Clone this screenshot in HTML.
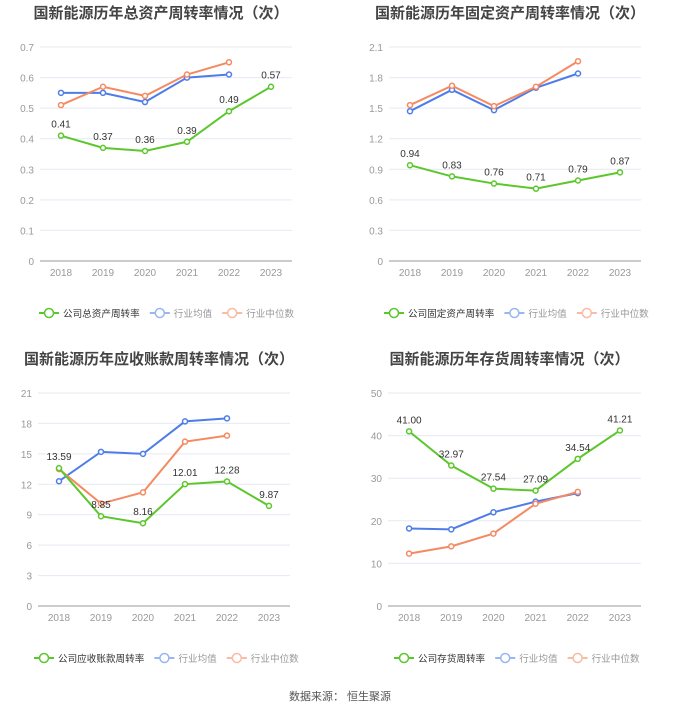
<!DOCTYPE html>
<html><head><meta charset="utf-8"><style>
body{margin:0;background:#fff;font-family:"Liberation Sans","Noto Sans CJK SC",sans-serif}
svg text{font-family:"Liberation Sans","Noto Sans CJK SC",sans-serif}
</style></head><body>
<svg id="root" width="680" height="712" xmlns="http://www.w3.org/2000/svg"></svg>
<script>
const years = ["2018","2019","2020","2021","2022","2023"];
const c1Company = [0.41,0.37,0.36,0.39,0.49,0.57];
const c1Avg = [0.55,0.55,0.52,0.60,0.61];
const c1Median = [0.51,0.57,0.54,0.61,0.65];
const c1Ticks = ["0","0.1","0.2","0.3","0.4","0.5","0.6","0.7"];
const c2Company = [0.94,0.83,0.76,0.71,0.79,0.87];
const c2Avg = [1.47,1.68,1.48,1.70,1.84];
const c2Median = [1.53,1.72,1.52,1.71,1.96];
const c2Ticks = ["0","0.3","0.6","0.9","1.2","1.5","1.8","2.1"];
const c3Company = [13.59,8.85,8.16,12.01,12.28,9.87];
const c3Avg = [12.3,15.2,15.0,18.2,18.5];
const c3Median = [13.5,10.1,11.2,16.2,16.8];
const c3Ticks = ["0","3","6","9","12","15","18","21"];
const c4Company = [41.00,32.97,27.54,27.09,34.54,41.21];
const c4Avg = [18.2,18.0,22.0,24.5,26.5];
const c4Median = [12.3,14.0,17.0,24.0,26.8];
const c4Ticks = ["0","10","20","30","40","50"];

const NS="http://www.w3.org/2000/svg";
const root=document.getElementById('root');
function mk(tag,attrs,parent){const e=document.createElementNS(NS,tag);for(const k in attrs)e.setAttribute(k,attrs[k]);(parent||root).appendChild(e);return e;}

function chart(cfg){
  const g=mk('g',{});
  
  
  const {x0,x1,y0,y1,ticks,company,avg,median,dec}=cfg;
  const max=parseFloat(ticks[ticks.length-1]);
  const ys=v=>y0-(v/max)*(y0-y1);
  const step=(x1-x0)/6;
  const xs=i=>x0+step*(i+0.5);
  const t=mk('text',{x:(x0+x1)/2-5,y:y1-29,'text-anchor':'middle','font-size':'15','font-weight':'bold',fill:'#444'},g);
  t.textContent=cfg.title;
  
  
  ticks.forEach((tk,i)=>{
    const v=parseFloat(tk);const y=ys(v);
    if(i>0){const l=mk('line',{x1:x0,x2:x1,y1:y,y2:y,stroke:'#e6e9f2','stroke-width':1},g);
      }
    const tx=mk('text',{x:x0-6,y:y+4,'text-anchor':'end','font-size':'10',fill:'#999'},g);
    tx.textContent=tk;
    
  });
  const ax=mk('line',{x1:x0,x2:x1,y1:y0,y2:y0,stroke:'#bbb','stroke-width':1.5},g);
  
  years.forEach((yr,i)=>{
    const tx=mk('text',{x:xs(i),y:y0+15,'text-anchor':'middle','font-size':'10',fill:'#999'},g);
    tx.textContent=yr;
    
  });
  function series(data,color,name,labels){
    const pts=data.map((v,i)=>xs(i)+','+ys(v)).join(' ');
    const pl=mk('polyline',{points:pts,fill:'none',stroke:color,'stroke-width':2},g);
    
    data.forEach((v,i)=>{
      const c=mk('circle',{cx:xs(i),cy:ys(v),r:2.5,fill:'#fff',stroke:color,'stroke-width':1.5},g);
      
      if(labels){
        const tx=mk('text',{x:xs(i),y:ys(v)-8,'text-anchor':'middle','font-size':'10',fill:'#333'},g);
        tx.textContent=v.toFixed(dec);
        
      }
    });
  }
  series(avg,'#4e7de8','industry-average',false);
  series(median,'#f58a62','industry-median',false);
  series(company,'#5cc72d','company',true);
  const ly=cfg.ly; let lx=cfg.lx;
  const items=[[cfg.legend,'#5cc72d','#333'],['行业均值','#9ab6f2','#999'],['行业中位数','#f9bba3','#999']];
  items.forEach((it,k)=>{
    const lg=mk('g',{},g);
    
    mk('line',{x1:lx,x2:lx+20,y1:ly,y2:ly,stroke:it[1],'stroke-width':2},lg);
    mk('circle',{cx:lx+10,cy:ly,r:4.5,fill:'#fff',stroke:it[1],'stroke-width':1.5},lg);
    const tx=mk('text',{x:lx+24,y:ly+4,'font-size':'9.6',fill:it[2]},lg);
    tx.textContent=it[0];
    lx+=24+it[0].length*9.6+10;
  });
}
chart({name:'total-asset-turnover-chart',title:'国新能源历年总资产周转率情况（次）',x0:40,x1:292,y0:261,y1:47,ticks:c1Ticks,company:c1Company,avg:c1Avg,median:c1Median,dec:2,legend:'公司总资产周转率',lx:39,ly:313});
chart({name:'fixed-asset-turnover-chart',title:'国新能源历年固定资产周转率情况（次）',x0:389,x1:641,y0:261,y1:47,ticks:c2Ticks,company:c2Company,avg:c2Avg,median:c2Median,dec:2,legend:'公司固定资产周转率',lx:384,ly:313});
chart({name:'receivables-turnover-chart',title:'国新能源历年应收账款周转率情况（次）',x0:38,x1:290,y0:606,y1:393,ticks:c3Ticks,company:c3Company,avg:c3Avg,median:c3Median,dec:2,legend:'公司应收账款周转率',lx:34,ly:658});
chart({name:'inventory-turnover-chart',title:'国新能源历年存货周转率情况（次）',x0:388,x1:641,y0:606,y1:393,ticks:c4Ticks,company:c4Company,avg:c4Avg,median:c4Median,dec:2,legend:'公司存货周转率',lx:394,ly:658});
const src=mk('text',{x:340,y:700,'text-anchor':'middle','font-size':'11',fill:'#555'});
src.textContent='数据来源：  恒生聚源';


</script>
</body></html>
